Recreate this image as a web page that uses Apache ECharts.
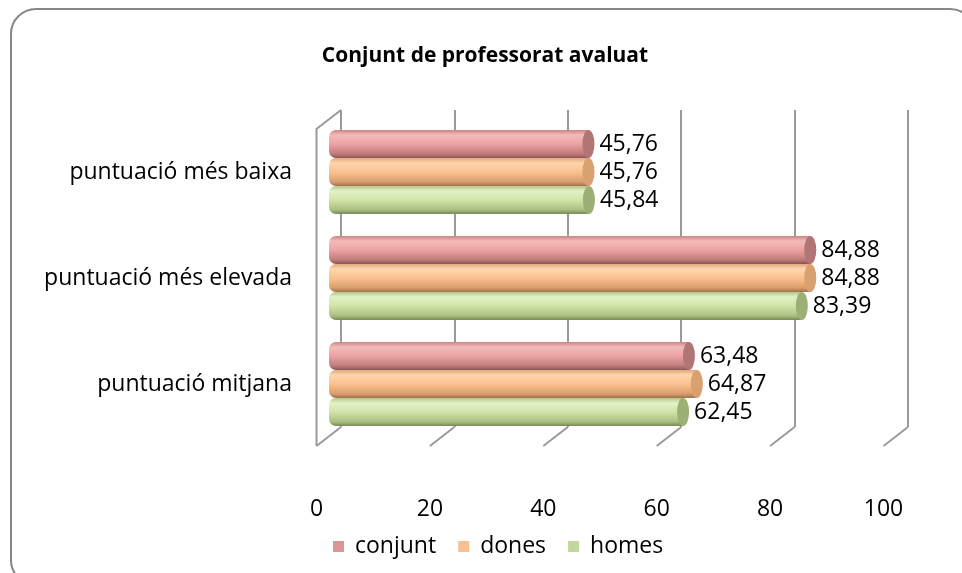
<!DOCTYPE html>
<html>
<head>
<meta charset="utf-8">
<script src="https://cdn.jsdelivr.net/npm/echarts@6/dist/echarts.min.js"></script>
<style>
  html, body { margin: 0; padding: 0; background: #fff; }
  #chart { width: 962px; height: 573px; }
</style>
</head>
<body>
<div id="chart"></div>
<script>
// dades del gràfic
const categories = ['puntuació més baixa', 'puntuació més elevada', 'puntuació mitjana']
const seriesNames = ['conjunt', 'dones', 'homes']
const conjunt = [45.76, 84.88, 63.48]
const dones = [45.76, 84.88, 64.87]
const homes = [45.84, 83.39, 62.45]
const xTicks = [0, 20, 40, 60, 80, 100]

const FONT = 'Open Sans'
const legendColors = ['#D99694', '#FAC090', '#C3D69B']
const bodyGrad = [
  ['#c98584', '#f4baba', '#eba3a3', '#c07b7b', '#8a5555'],
  ['#e0a878', '#fed6ae', '#fbc18f', '#d99e6c', '#a0714c'],
  ['#b2c68c', '#e4f1c6', '#d1e4a7', '#a9bf7f', '#76895a']
]
const capColor = ['#b27575', '#d9a070', '#9caf76']

function grad (c) {
  return new echarts.graphic.LinearGradient(0, 0, 0, 1, [
    { offset: 0, color: c[0] },
    { offset: 0.18, color: c[1] },
    { offset: 0.5, color: c[2] },
    { offset: 0.85, color: c[3] },
    { offset: 1, color: c[4] }
  ])
}
const fmt = p => Number(p.value).toFixed(2).replace('.', ',')

const data = [conjunt, dones, homes]
const series = []
data.forEach((vals, i) => {
  series.push({
    name: seriesNames[i],
    type: 'bar',
    xAxisIndex: 0,
    yAxisIndex: 0,
    data: vals,
    barWidth: 28,
    barGap: '0%',
    itemStyle: { color: grad(bodyGrad[i]), borderRadius: [7, 0, 0, 7] },
    label: {
      show: true,
      position: 'right',
      distance: 11,
      formatter: fmt,
      color: '#000',
      fontFamily: FONT,
      fontSize: 23
    },
    z: 3
  })
})
data.forEach((vals, i) => {
  series.push({
    type: 'pictorialBar',
    xAxisIndex: 0,
    yAxisIndex: 0,
    data: vals,
    symbol: 'circle',
    symbolSize: [12, 28],
    symbolPosition: 'end',
    symbolOffset: ['50%', 0],
    barWidth: 28,
    barGap: '0%',
    itemStyle: { color: capColor[i] },
    z: 4,
    silent: true
  })
})

const chart = echarts.init(document.getElementById('chart'))
chart.setOption({
  animation: false,
  title: {
    text: 'Conjunt de professorat avaluat',
    left: 480,
    top: 41,
    textAlign: 'center',
    textStyle: { fontFamily: FONT, fontSize: 21, fontWeight: 'bold', color: '#000' }
  },
  legend: {
    data: seriesNames.map((n, i) => ({ name: n, itemStyle: { color: legendColors[i] } })),
    left: 328,
    top: 530,
    itemWidth: 11,
    itemHeight: 11,
    itemGap: 22,
    icon: 'rect',
    textStyle: { fontFamily: FONT, fontSize: 23, color: '#000', padding: [0, 0, 0, 6] }
  },
  grid: [
    { left: 329, width: 567, top: 119, height: 318 },
    { left: 341, width: 567, top: 110, height: 317 },
    { left: 316.5, width: 567, top: 446, height: 1 }
  ],
  xAxis: [
    { gridIndex: 0, type: 'value', min: 0, max: 100, interval: 20, show: false },
    {
      gridIndex: 1, type: 'value', min: 0, max: 100, interval: 20,
      axisLine: { show: false }, axisTick: { show: false }, axisLabel: { show: false },
      splitLine: { show: true, lineStyle: { color: '#9a9a9a', width: 2 } }
    },
    {
      gridIndex: 2, type: 'value', min: 0, max: 100, interval: 20,
      axisLine: { show: false }, axisTick: { show: false }, splitLine: { show: false },
      axisLabel: { margin: 51, fontFamily: FONT, fontSize: 23, color: '#000' }
    }
  ],
  yAxis: [
    {
      gridIndex: 0, type: 'category', data: categories, inverse: true,
      axisLine: { show: false }, axisTick: { show: false },
      axisLabel: { margin: 37, fontFamily: FONT, fontSize: 23, color: '#000' }
    },
    { gridIndex: 1, type: 'value', show: false },
    { gridIndex: 2, type: 'value', show: false }
  ],
  series: series
})

// parets 3D: diagonals del terra i paret esquerra
const backY = 427, frontY = 446
const lines = xTicks.map(v => {
  const bx = chart.convertToPixel({ xAxisIndex: 1 }, v)
  const fx = chart.convertToPixel({ xAxisIndex: 2 }, v)
  return { type: 'line', shape: { x1: fx, y1: frontY, x2: bx, y2: backY }, style: { stroke: '#9a9a9a', lineWidth: 2 }, z: 1 }
})
const b0 = chart.convertToPixel({ xAxisIndex: 1 }, 0)
const f0 = chart.convertToPixel({ xAxisIndex: 2 }, 0)
lines.push({ type: 'polyline', shape: { points: [[f0, frontY], [f0, 129], [b0, 110]] }, style: { stroke: '#9a9a9a', lineWidth: 2, fill: null }, z: 1 })
lines.push({ type: 'rect', shape: { x: 11, y: 9, width: 964, height: 576, r: 25 }, style: { stroke: '#868686', lineWidth: 2, fill: null }, z: 0 })
chart.setOption({ graphic: lines })
</script>
</body>
</html>
